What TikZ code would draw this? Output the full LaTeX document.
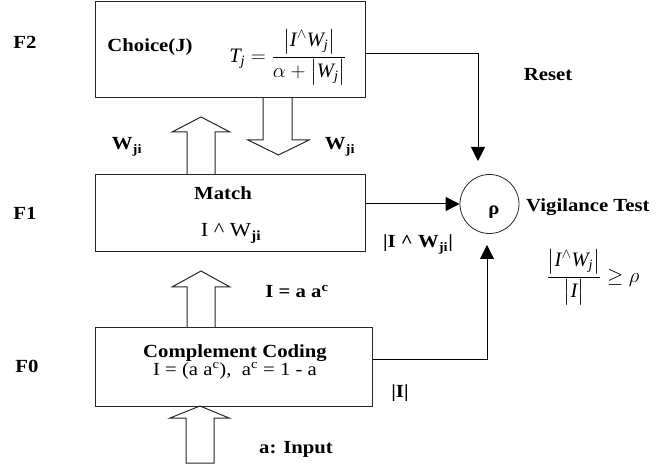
\documentclass[tikz,border=0pt]{standalone}
\usepackage{amsmath}
\usepackage{fontspec}
\setmainfont{Liberation Serif}
\newfontfamily\tb[FakeStretch=1.12]{Liberation Serif}
\newcommand{\myit}[1]{\text{\normalfont\itshape #1}}
\usetikzlibrary{arrows.meta,calc}
\begin{document}
\begin{tikzpicture}[x=1pt,y=-1pt,
  box/.style={draw=black!85,line width=1pt,rectangle,inner sep=0pt},
  lbl/.style={inner sep=0pt,font=\tb\fontsize{18.5}{20}\selectfont\bfseries},
  txt/.style={inner sep=0pt,font=\tb\fontsize{20}{22}\selectfont},
  mth/.style={inner sep=0pt,font=\fontsize{20.5}{24}\selectfont},
  hollow/.style={draw=black!85,line width=1pt,line join=miter},
  conn/.style={draw=black,line width=1pt,-{Triangle[length=14pt,width=14pt]}},
]
\useasboundingbox (0,0) rectangle (656,470);

% boxes
\node[box,minimum width=270pt,minimum height=96pt] (f2) at (230,50) {};
\node[box,minimum width=270pt,minimum height=77pt] (f1) at (230,213.5) {};
\node[box,minimum width=277pt,minimum height=78pt] (f0) at (233.5,367) {};
\node[draw=black!85,circle,minimum size=59pt,inner sep=0pt,line width=0.8pt] (rho) at (489.5,204) {};

% level labels
\node[lbl,anchor=base] (lF2) at (25,49) {F2};
\node[lbl,anchor=base] (lF1) at (25,220) {F1};
\node[lbl,anchor=base] (lF0) at (27,372) {F0};

% F2 content
\node[lbl,anchor=base] (choice) at (150,52) {Choice(J)};
\node[mth] (tj) at (288,57) {$\myit{T}_{\myit{j}} = \dfrac{\bigl|\myit{I}^{\wedge}\myit{W}_{\myit{j}}\bigr|}{\alpha + \bigl|\myit{W}_{\myit{j}}\bigr|}$};

% F1 content
\node[lbl,anchor=base] (match) at (223,200) {Match};
\node[txt,anchor=base] (iw) at (231,237) {I \textasciicircum{} W\textsubscript{\bfseries ji}};

% F0 content
\node[lbl,anchor=base,align=center] (cc) at (235,375) {Complement Coding\\[-2pt]
  {\mdseries\fontsize{18.5}{20}\selectfont I = (a a\textsuperscript{c}),\ \ a\textsuperscript{c} = 1 - a}};

% other labels
\node[lbl,anchor=base] (wl) at (127,150) {W\textsubscript{ji}};
\node[lbl,anchor=base] (wr) at (340,150) {W\textsubscript{ji}};
\node[lbl,anchor=base] (iaac) at (297,298) {I = a a\textsuperscript{c}};
\node[lbl,anchor=base] (absI) at (400,397) {|I|};
\node[lbl,anchor=base] (input) at (296,453) {a: Input};
\node[lbl,anchor=base] (reset) at (548,81) {Reset};
\node[lbl,anchor=base] (absIW) at (418,248) {|I \textasciicircum{} W\textsubscript{ji}|};
\node[lbl,anchor=base west] (vig) at (526,212) {Vigilance Test};
\node[lbl] (rhotxt) at (494,212) {ρ};
\node[mth] (vform) at (593,277) {$\dfrac{\bigl|\myit{I}^{\wedge}\myit{W}_{\myit{j}}\bigr|}{\bigl|\myit{I}\bigr|}\ge\rho$};

% hollow arrows
\draw[hollow] (187,175) -- (187,132) -- (172,132) -- (201,117) -- (230,132) -- (215,132) -- (215,175);
\draw[hollow] (263,98) -- (263,140) -- (248,140) -- (278.5,155) -- (309,140) -- (292,140) -- (292,98);
\draw[hollow] (187,328) -- (187,287) -- (172,287) -- (201,271) -- (230,287) -- (215,287) -- (215,328);
\draw[hollow] (200,406) -- (229,418) -- (214,418) -- (214,463) -- (186,463) -- (186,418) -- (170,418) -- cycle;

% connectors
\coordinate (rs) at (478,54);
\coordinate (resetend) at (478,161);
\draw[conn] (f2.east |- rs) -| (resetend);
\draw[conn] (f1.east |- rho.west) -- (rho.west);
\coordinate (f0out) at (372,359);
\coordinate (vigin) at (487,245);
\draw[conn] (f0.east |- f0out) -| (vigin);
\end{tikzpicture}
\end{document}
